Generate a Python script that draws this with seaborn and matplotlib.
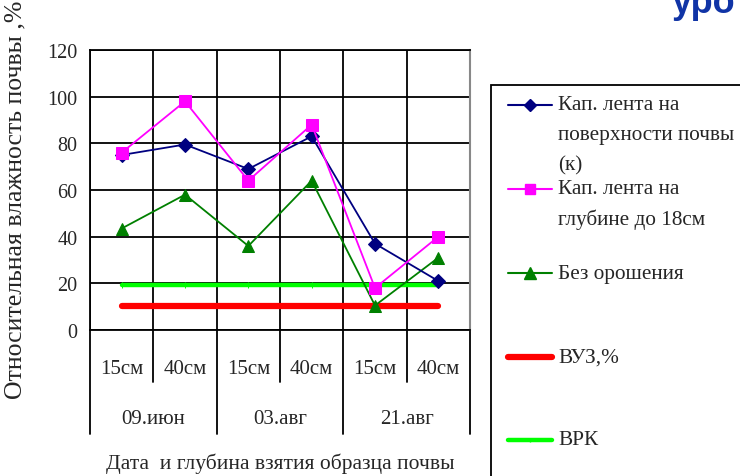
import numpy as np
import pandas as pd
import matplotlib
matplotlib.use("Agg")
import matplotlib.pyplot as plt
from matplotlib.lines import Line2D
from matplotlib.patches import Rectangle
import matplotlib.transforms as mtransforms
import seaborn as sns

# --- data -------------------------------------------------------------
depths = ["15см", "40см", "15см", "40см", "15см", "40см"]
dates = ["09.июн", "03.авг", "21.авг"]
surface_tape = [75, 79.5, 69, 83, 37, 21]        # Кап. лента на поверхности почвы (к)
deep_tape = [76, 98, 64, 88, 18, 40]             # Кап. лента на глубине до 18см
no_irrigation = [43.5, 58, 36, 64, 10.5, 31]     # Без орошения
vuz = [10.3, 10.3, 10.3, 10.3, 10.3, 10.3]       # ВУЗ,%
vrk = [19.5, 19.5, 19.5, 19.5, 19.5, 19.5]       # ВРК

series_names = ["Кап. лента на\nповерхности почвы\n(к)",
                "Кап. лента на\nглубине до 18см",
                "Без орошения", "ВУЗ,%", "ВРК"]
yticks = [0, 20, 40, 60, 80, 100, 120]

sns.set_style("white")
plt.rcParams["font.family"] = ["Liberation Serif", "DejaVu Serif"]
plt.rcParams["font.size"] = 15

W, H = 740, 477
fig = plt.figure(figsize=(W / 100, H / 100), dpi=100)
L, R, T, B = 90, 470, 51, 331
ax = fig.add_axes([L / W, 1 - B / H, (R - L) / W, (B - T) / H])

pos = np.arange(len(depths))
styles = [
    dict(values=surface_tape, color="#000080", marker="D", ms=7, lw=1.3),
    dict(values=deep_tape, color="#FF00FF", marker="s", ms=8, lw=1.3),
    dict(values=no_irrigation, color="#008000", marker="^", ms=9, lw=1.3),
    dict(values=vuz, color="#FF0000", marker=None, ms=0, lw=4.5),
    dict(values=vrk, color="#00FF00", marker="|", ms=4, lw=3.2),
]
draw_order = [4, 3, 2, 0, 1]
for i in draw_order:
    s = styles[i]
    df = pd.DataFrame({"x": pos, "y": s["values"]})
    sns.lineplot(data=df, x="x", y="y", ax=ax, color=s["color"],
                 marker=s["marker"], markersize=s["ms"], linewidth=s["lw"],
                 markeredgecolor=s["color"], markerfacecolor=s["color"],
                 zorder=3 + (i < 3), legend=False)

ax.set_xlim(-0.5, len(depths) - 0.5)
ax.set_ylim(0, 120)
ax.set_yticks(yticks)
ax.set_yticklabels([str(v) for v in yticks])
bounds = np.arange(-0.5, len(depths), 1.0)
ax.set_xticks(bounds)
ax.set_xticklabels([])
ax.tick_params(axis="x", length=0)
ax.tick_params(axis="y", length=6, width=1.3, color="black", direction="out",
               pad=3, labelsize=14.5)
ax.grid(True, color="black", linewidth=1.3)
ax.set_axisbelow(True)
for sp in ["left", "top", "bottom"]:
    ax.spines[sp].set_color("black")
    ax.spines[sp].set_linewidth(1.3)
ax.spines["right"].set_color("#888888")
ax.spines["right"].set_linewidth(1.5)
ax.set_xlabel("")
ax.set_ylabel("")

# two-level category axis below the plot
trans = mtransforms.blended_transform_factory(ax.transData, ax.transAxes)
ph = B - T
for k, b in enumerate(bounds):
    depth = 104 / ph if k % 2 == 0 else 52 / ph
    ax.add_line(Line2D([b, b], [0, -depth], transform=trans, color="black",
                       lw=1.3, clip_on=False))
for p, lab in zip(pos, depths):
    ax.text(p, -39 / ph, lab, transform=trans, ha="center", va="center",
            fontsize=15)
for j, lab in enumerate(dates):
    ax.text(2 * j + 0.5, -89 / ph, lab, transform=trans, ha="center",
            va="center", fontsize=15)

fig.text(280 / W, 1 - 464 / H, "Дата  и глубина взятия образца почвы",
         ha="center", va="center", fontsize=15.5)
fig.text(15 / W, 1 - 399 / H, "Относительная влажность почвы ,%",
         rotation=90, ha="center", va="bottom", fontsize=18.5)

# legend box
fig.add_artist(Rectangle((491 / W, -0.05), 1.0, 1 - 86 / H + 0.05,
                         transform=fig.transFigure, facecolor="white",
                         edgecolor="black", linewidth=1.3))
legend_y = [106, 190, 274, 358, 441]
for s, name, y0 in zip(styles, series_names, legend_y):
    fy = 1 - y0 / H
    fig.add_artist(Line2D([508 / W, 552 / W], [fy, fy], transform=fig.transFigure,
                          color=s["color"], lw=s["lw"] if s["lw"] > 2 else 1.5))
    if s["marker"] is not None:
        fig.add_artist(Line2D([530 / W], [fy], transform=fig.transFigure,
                              color=s["color"], marker=s["marker"],
                              markersize=s["ms"] - 1, linestyle="none"))
    for n, line in enumerate(name.split("\n")):
        fig.text(558 / W, 1 - (y0 + n * 30) / H, line,
                 ha="left", va="center", fontsize=15.3)

# slide heading fragment
fig.text(672 / W, 1 - 13 / H, "уро", ha="left", va="baseline",
         fontsize=26, fontweight="bold", color="#1034A6",
         family=["Liberation Sans", "DejaVu Sans"])

fig.savefig("out.png", dpi=100)
